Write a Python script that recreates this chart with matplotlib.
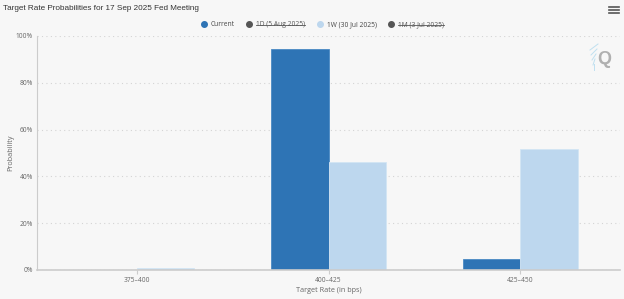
import numpy as np
import matplotlib.pyplot as plt
from matplotlib.lines import Line2D

# Fed meeting target rate probabilities (%)
categories = ["375\u2013400", "400\u2013425", "425\u2013450"]
current = [0.0, 94.6, 4.6]
week_ago = [0.8, 46.1, 51.8]
legend_labels = ["Current", "1D (5 Aug 2025)", "1W (30 Jul 2025)", "1M (3 Jul 2025)"]
hidden = [False, True, False, True]
yticks = [0, 20, 40, 60, 80, 100]

dark_blue = "#2e74b5"
light_blue = "#bdd7ee"
bg = "#f7f7f7"
txt = "#666666"
title_font = ["Liberation Sans", "DejaVu Sans"]
small_font = ["Open Sans", "DejaVu Sans"]

fig = plt.figure(figsize=(6.24, 2.99), dpi=100, facecolor=bg)
ax = fig.add_axes([37 / 624, 29 / 299, 583 / 624, 234 / 299], facecolor=bg)

x = np.arange(len(categories))
w = 0.3
ax.bar(x - w / 2, current, width=w, color=dark_blue, edgecolor="#4a89c4", linewidth=0.6, zorder=3)
ax.bar(x + w / 2, week_ago, width=w, color=light_blue, edgecolor="#d3e5f4", linewidth=0.6, zorder=3)

ax.set_xlim(-0.52, 2.52)
ax.set_ylim(0, 100)
ax.set_yticks(yticks)
ax.set_yticklabels([f"{v}%" for v in yticks], fontsize=4.8, color=txt, family=small_font)
ax.set_xticks(x)
ax.set_xticklabels(categories, fontsize=4.8, color=txt, family=small_font)
ax.tick_params(axis="y", length=0, pad=3)
ax.tick_params(axis="x", length=3, color="#cccccc", pad=2)
ax.grid(axis="y", linestyle=(0, (1, 3)), color="#d4d4d4", linewidth=0.8, zorder=0)

for s in ["top", "right"]:
    ax.spines[s].set_visible(False)
ax.spines["left"].set_color("#cccccc")
ax.spines["left"].set_linewidth(0.8)
ax.spines["bottom"].set_color("#cccccc")
ax.spines["bottom"].set_linewidth(1.2)
ax.spines["bottom"].set_zorder(4)

ax.set_xlabel("Target Rate (in bps)", fontsize=5.2, color=txt, family=small_font, labelpad=2)
ax.yaxis.set_label_coords(-23 / 583, 0.5)
ax.set_ylabel("Probability", fontsize=5.2, color=txt, family=small_font)

fig.text(3 / 624, 1 - 8 / 299, "Target Rate Probabilities for 17 Sep 2025 Fed Meeting",
         fontsize=5.9, color="#333333", family=title_font, va="center", ha="left")

# legend
colors = [dark_blue, "#555555", light_blue, "#555555"]
handles = [Line2D([], [], marker="o", linestyle="none", markersize=4, color=c) for c in colors]
leg = fig.legend(handles, legend_labels, loc="center", bbox_to_anchor=(322 / 624, 1 - 25 / 299),
                 ncol=4, frameon=False, handletextpad=0.4, columnspacing=1.6, handlelength=1.2,
                 prop={"family": small_font, "size": 4.8})
for t, h in zip(leg.get_texts(), hidden):
    t.set_color("#444444" if not h else "#555555")
fig.canvas.draw()
renderer = fig.canvas.get_renderer()
inv = fig.transFigure.inverted()
for t, h in zip(leg.get_texts(), hidden):
    if h:
        bb = t.get_window_extent(renderer).transformed(inv)
        ym = (bb.y0 + bb.y1) / 2
        fig.add_artist(Line2D([bb.x0, bb.x1], [ym, ym], color="#555555", linewidth=0.6))

# menu icon
for yy in [7, 10, 13]:
    fig.add_artist(Line2D([609 / 624, 619 / 624], [1 - yy / 299] * 2, color="#555555", linewidth=1.2))

# watermark
fig.text(604 / 624, 1 - 60 / 299, "Q", fontsize=13, fontweight="bold", color="#b0b0b0",
         ha="center", va="center", family=["Liberation Sans", "DejaVu Sans"])
for i in range(5):
    y0 = 1 - (50 + i * 5) / 299
    fig.add_artist(Line2D([(590 + i) / 624, (598 - i) / 624], [y0, y0 + 6 / 299],
                          color="#bfe0f0", linewidth=0.7))

fig.savefig("out.png", dpi=100, facecolor=bg)
